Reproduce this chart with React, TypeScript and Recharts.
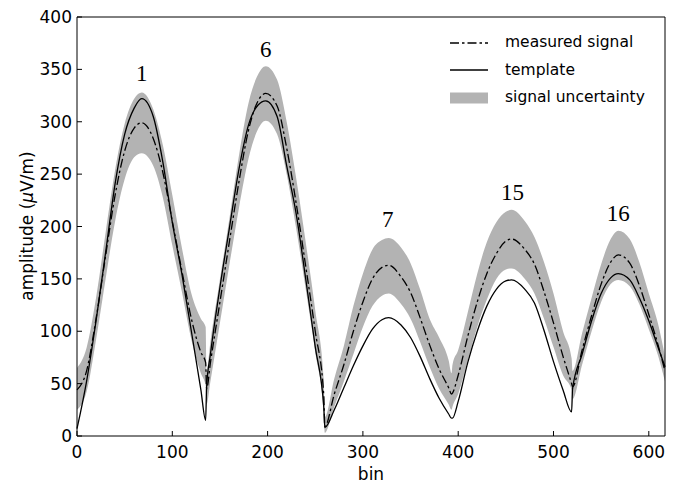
import React from 'react';
import { ComposedChart, Area, Line, XAxis, YAxis, ReferenceDot, Legend, Label } from 'recharts';

// bin positions (segments break at the jumps near 135, 259, 393, 519)
const bins = [
  0, 10, 20, 30, 40, 50, 60, 68, 80, 90, 100, 110, 120, 130, 135,
  136, 140, 150, 160, 170, 180, 190, 198, 210, 220, 230, 240, 250, 259,
  260, 270, 280, 290, 300, 310, 320, 327, 340, 350, 360, 370, 380, 390, 393,
  394, 400, 410, 420, 430, 440, 450, 456, 470, 480, 490, 500, 510, 519,
  520, 530, 540, 550, 560, 568, 580, 590, 600, 610, 617,
];

const template = [
  7, 52, 110, 175, 241, 288, 313, 322, 305, 262, 204, 155, 100, 44, 15,
  47, 78, 142, 199, 255, 297, 316, 320, 305, 258, 212, 150, 85, 27,
  8, 25, 46, 67, 86, 102, 111, 113, 106, 94, 76, 55, 36, 21, 17,
  17, 33, 70, 100, 124, 140, 148, 149, 140, 127, 101, 71, 44, 23,
  45, 78, 110, 136, 151, 155, 149, 132, 110, 84, 66,
];

const measured = [
  44, 62, 112, 172, 230, 272, 294, 299, 284, 252, 205, 158, 112, 80, 70,
  45, 70, 128, 186, 243, 292, 320, 327, 315, 275, 222, 162, 100, 38,
  9, 40, 68, 100, 128, 150, 161, 163, 152, 137, 113, 87, 64, 46, 40,
  41, 58, 95, 128, 155, 174, 186, 188, 178, 164, 138, 108, 76, 50,
  47, 82, 115, 145, 166, 173, 165, 144, 116, 86, 62,
];

const bandLow = [
  25, 42, 92, 150, 205, 245, 266, 270, 258, 228, 182, 138, 92, 60, 48,
  30, 52, 108, 164, 218, 265, 293, 301, 288, 250, 198, 140, 80, 20,
  3, 28, 52, 78, 104, 124, 134, 136, 126, 112, 90, 66, 45, 30, 25,
  28, 40, 72, 104, 130, 150, 159, 160, 150, 136, 112, 85, 58, 44,
  35, 68, 100, 128, 145, 149, 143, 126, 102, 76, 52,
];

const bandHigh = [
  65, 84, 132, 194, 254, 298, 322, 328, 312, 278, 230, 180, 136, 112, 104,
  62, 90, 150, 208, 268, 318, 345, 353, 340, 300, 246, 185, 120, 52,
  18, 55, 86, 124, 155, 178, 187, 189, 180, 165, 140, 112, 94, 72, 60,
  68, 82, 118, 155, 185, 204, 214, 216, 205, 190, 166, 136, 100, 74,
  62, 98, 132, 164, 188, 196, 188, 166, 136, 106, 76,
];

// peak annotations
const peakNames = ['1', '6', '7', '15', '16'];
const peakBins = [68, 198, 326, 457, 568];
const peakLabelY = [347, 370, 207, 233, 213];

const xTicks = [0, 100, 200, 300, 400, 500, 600];
const yTicks = [0, 50, 100, 150, 200, 250, 300, 350, 400];

const FONT = 'DejaVu Sans';
const BAND = '#b3b3b3';
const DASH = '9 3 2.5 3';

const data = bins.map((bin, i) => ({
  bin,
  template: template[i],
  measured: measured[i],
  band: [bandLow[i], bandHigh[i]],
}));

const legendItems = [
  { name: 'measured signal', kind: 'dashdot' },
  { name: 'template', kind: 'line' },
  { name: 'signal uncertainty', kind: 'patch' },
];

const renderLegend = () => (
  <div style={{ fontFamily: FONT, fontSize: 15.5, color: '#000' }}>
    {legendItems.map((item) => (
      <div key={item.name} style={{ display: 'flex', alignItems: 'center', height: 27.5 }}>
        <svg width={38} height={14} style={{ marginRight: 17, flexShrink: 0 }}>
          {item.kind === 'patch' ? (
            <rect x={0} y={1.5} width={38} height={11} fill={BAND} />
          ) : (
            <line
              x1={0}
              x2={38}
              y1={7}
              y2={7}
              stroke="#000"
              strokeWidth={1.3}
              strokeDasharray={item.kind === 'dashdot' ? DASH : undefined}
            />
          )}
        </svg>
        <span style={{ lineHeight: 1, whiteSpace: 'nowrap' }}>{item.name}</span>
      </div>
    ))}
  </div>
);

const tickStyle = { fontSize: 17, fontFamily: FONT, fill: '#000' };

export default function App() {
  return (
    <div style={{ width: 680, height: 485 }}>
      <style>{'body{margin:0}'}</style>
      <ComposedChart
        width={680}
        height={485}
        data={data}
        margin={{ top: 16, right: 14, left: 0, bottom: 0 }}
      >
        <XAxis
          dataKey="bin"
          type="number"
          domain={[0, 617]}
          ticks={xTicks}
          height={49}
          tickSize={-5}
          tickMargin={15}
          tick={tickStyle}
          stroke="#000"
          axisLine={{ stroke: '#000' }}
          tickLine={{ stroke: '#000' }}
        >
          <Label
            content={() => (
              <text x={371} y={480} textAnchor="middle" fontFamily={FONT} fontSize={17} fill="#000">
                bin
              </text>
            )}
          />
        </XAxis>
        {/* top and right axes only draw the frame and inward ticks */}
        <XAxis
          xAxisId="top"
          orientation="top"
          dataKey="bin"
          type="number"
          domain={[0, 617]}
          ticks={xTicks}
          height={1}
          tickSize={-5}
          tick={false}
          axisLine={{ stroke: '#000' }}
          tickLine={{ stroke: '#000' }}
        />
        <YAxis
          type="number"
          domain={[0, 400]}
          ticks={yTicks}
          width={77}
          tickSize={-5}
          tickMargin={10}
          tick={tickStyle}
          axisLine={{ stroke: '#000' }}
          tickLine={{ stroke: '#000' }}
        >
          <Label
            content={() => (
              <text
                x={27}
                y={226}
                transform="rotate(-90 27 226)"
                textAnchor="middle"
                dominantBaseline="central"
                fontFamily={FONT}
                fontSize={17}
                fill="#000"
              >
                amplitude (<tspan fontStyle="italic">μ</tspan>V/m)
              </text>
            )}
          />
        </YAxis>
        <YAxis
          yAxisId="right"
          orientation="right"
          type="number"
          domain={[0, 400]}
          ticks={yTicks}
          width={1}
          tickSize={-5}
          tick={false}
          axisLine={{ stroke: '#000' }}
          tickLine={{ stroke: '#000' }}
        />
        <Area
          dataKey="band"
          type="monotone"
          fill={BAND}
          fillOpacity={1}
          stroke="none"
          isAnimationActive={false}
        />
        {/* invisible copy bound to the frame axes */}
        <Line
          xAxisId="top"
          yAxisId="right"
          dataKey="template"
          stroke="none"
          dot={false}
          activeDot={false}
          legendType="none"
          isAnimationActive={false}
        />
        <Line
          dataKey="template"
          type="monotone"
          stroke="#000"
          strokeWidth={1.3}
          dot={false}
          isAnimationActive={false}
        />
        <Line
          dataKey="measured"
          type="monotone"
          stroke="#000"
          strokeWidth={1.3}
          strokeDasharray={DASH}
          dot={false}
          isAnimationActive={false}
        />
        {peakNames.map((name, i) => (
          <ReferenceDot
            key={name}
            x={peakBins[i]}
            y={peakLabelY[i]}
            r={0}
            fill="none"
            stroke="none"
            label={{
              value: name,
              position: 'center',
              fontFamily: 'Liberation Serif',
              fontSize: 23,
              fill: '#000',
            }}
          />
        ))}
        <Legend
          layout="vertical"
          align="center"
          verticalAlign="middle"
          content={renderLegend}
          wrapperStyle={{ position: 'absolute', top: 29, left: 450, width: 220, height: 83 }}
        />
      </ComposedChart>
    </div>
  );
}
